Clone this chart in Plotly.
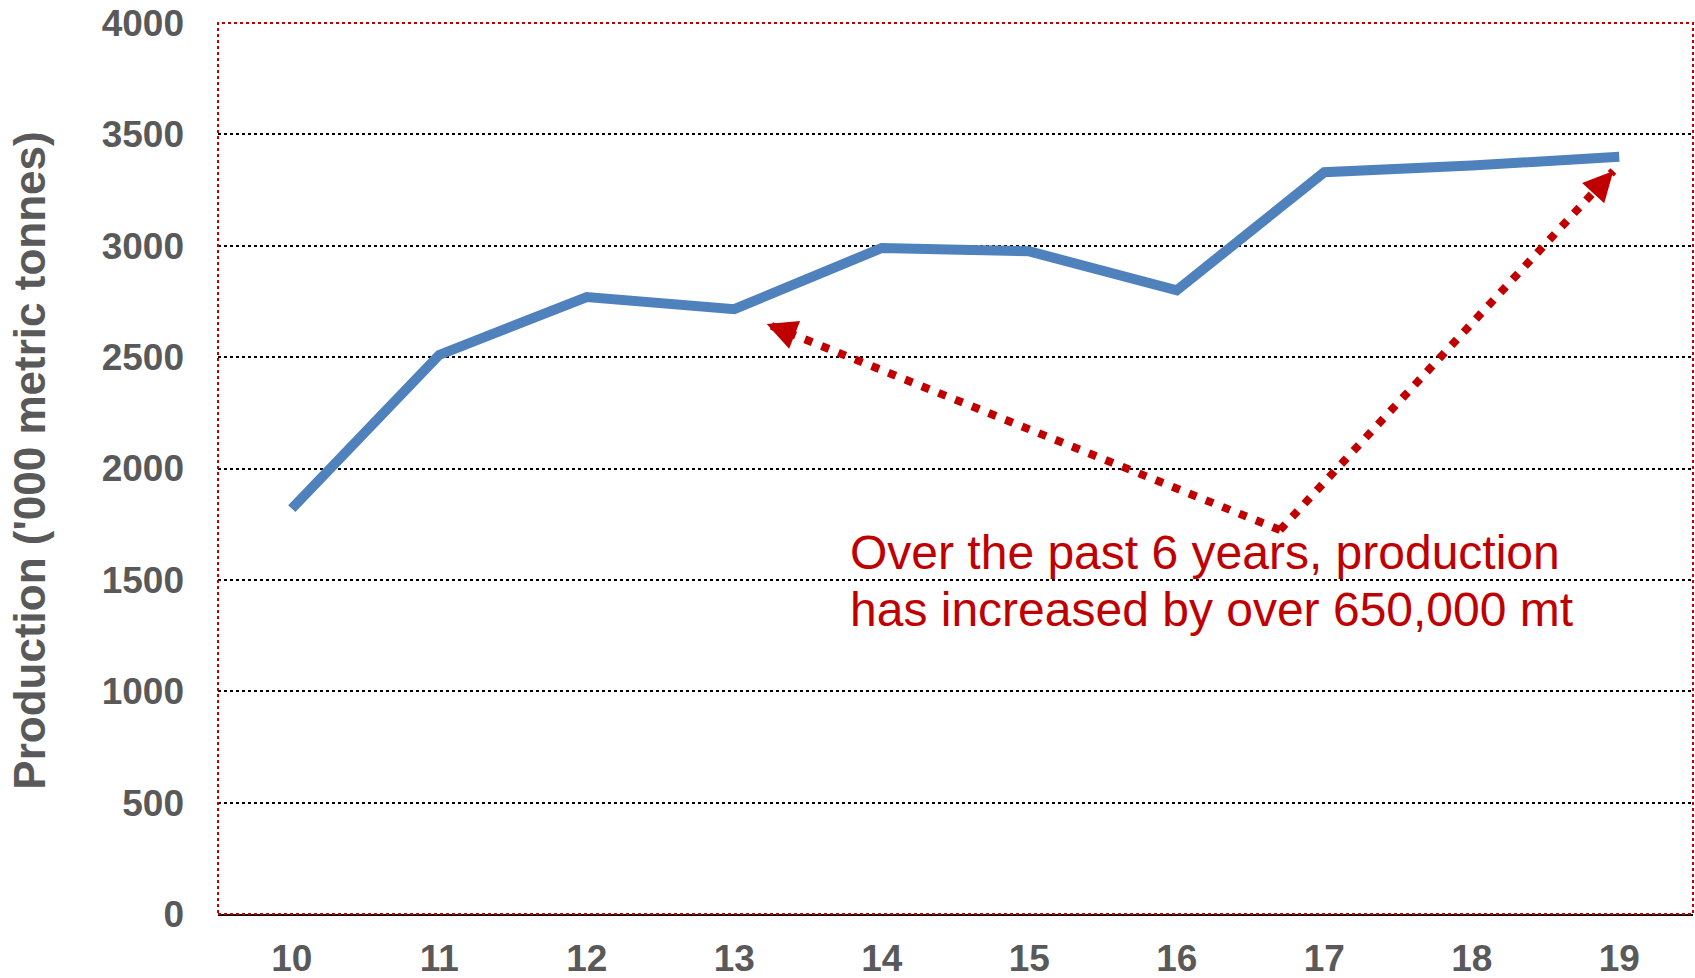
import plotly.graph_objects as go

years = [10, 11, 12, 13, 14, 15, 16, 17, 18, 19]
production = [1820, 2510, 2770, 2715, 2990, 2975, 2800, 3330, 3360, 3400]
y_ticks = [0, 500, 1000, 1500, 2000, 2500, 3000, 3500, 4000]

note_lines = ["Over the past 6 years, production", "has increased by over 650,000 mt"]
# callout arrows: shared tail (vertex) and two tips, in data units
vertex = (16.70, 1724)
tip_left = (13.22, 2649)
tip_right = (18.96, 3336)

RED = "#C00000"
BLUE = "#4F81BD"
GREY = "#595959"
FONT = "Liberation Sans, Arial, sans-serif"

fig = go.Figure()
fig.add_trace(go.Scatter(
    x=years, y=production, mode="lines",
    line={"color": BLUE, "width": 10},
    hoverinfo="skip", showlegend=False,
))

for tip, (ax, ay) in ((tip_left, (28, 11)), (tip_right, (-20, 22))):
    fig.add_shape(
        type="line", xref="x", yref="y",
        x0=vertex[0], y0=vertex[1], x1=tip[0], y1=tip[1],
        line={"color": RED, "width": 8, "dash": "8px,10px"},
    )
    fig.add_annotation(
        x=tip[0], y=tip[1], ax=ax, ay=ay, text="",
        showarrow=True, arrowhead=2, arrowsize=1.5, arrowwidth=4,
        arrowcolor=RED, standoff=0,
    )

# two lines placed separately to get the tighter line spacing of the original
for line_text, y_pos in zip(note_lines, (1625, 1369)):
    fig.add_annotation(
        x=13.77, y=y_pos, xanchor="left", yanchor="middle",
        text=line_text, showarrow=False,
        font={"family": FONT, "size": 48, "color": RED},
    )

fig.add_annotation(
    xref="paper", yref="paper", x=-0.128, y=0.509, xanchor="center", yanchor="middle",
    text="Production ('000 metric tonnes)", textangle=-90, showarrow=False,
    font={"family": FONT, "size": 44, "color": GREY, "weight": "bold"},
)

# dotted red plot-area border
fig.add_shape(
    type="rect", xref="paper", yref="paper", x0=0, y0=0, x1=1, y1=1,
    line={"color": RED, "width": 2, "dash": "dot"}, layer="above",
)

fig.update_layout(
    width=1695, height=978,
    margin={"l": 218, "r": 2, "t": 23, "b": 64},
    plot_bgcolor="white", paper_bgcolor="white",
    font={"family": FONT},
    xaxis={
        "range": [9.5, 19.5], "tickvals": years, "ticktext": [str(y) for y in years],
        "showgrid": False, "zeroline": False, "automargin": False,
        "showline": True, "linecolor": "black", "linewidth": 2,
        "tickfont": {"family": FONT, "size": 37, "color": GREY, "weight": "bold"},
        "ticklabelstandoff": 11,
    },
    yaxis={
        "range": [0, 4000], "tickvals": y_ticks, "automargin": False,
        "showgrid": True, "gridcolor": "black", "gridwidth": 2, "griddash": "dot",
        "zeroline": False, "showline": False,
        "tickfont": {"family": FONT, "size": 37, "color": GREY, "weight": "bold"},
        "ticklabelstandoff": 33,
    },
)

# figure is sized to the whole window, so drop the default page margin
fig.write_html(
    "out.html",
    config={"displayModeBar": False},
    post_script="document.body.style.margin = '0';",
)
